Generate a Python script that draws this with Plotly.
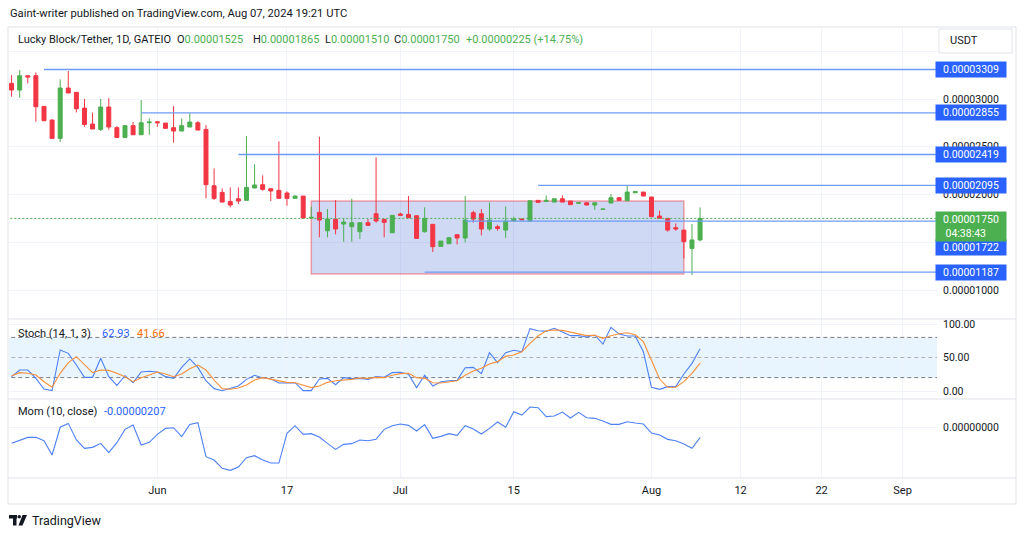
import plotly.graph_objects as go
import pandas as pd

# ---------------- data (prices in units of 1e-8 USDT) ----------------
dates = pd.date_range("2024-05-14", "2024-08-07", freq="D")

opens = [3164, 3094, 3244, 3244, 2923, 2780, 2588, 3115, 3070, 2905,
         2738, 2682, 2916, 2700, 2598, 2721, 2626, 2752, 2762, 2748,
         2700, 2665, 2707, 2752, 2682, 2092, 2022, 1928, 1956, 1939,
         2068, 2103, 2061, 2044, 2016, 1960, 1984, 1754, 1813, 1621,
         1743, 1691, 1663, 1611, 1705, 1799, 1740, 1600, 1796, 1792,
         1778, 1611, 1688, 1457, 1485, 1580, 1545, 1810, 1799, 1639,
         1663, 1628, 1723, 1743, 1723, 1939, 1928, 1921, 1956, 1932,
         1908, 1914, 1890, 1845, 1911, 1967, 1935, 2019, 2026, 1974,
         1775, 1750, 1653, 1628, 1436, 1525]
highs = [3251, 3303, 3244, 3279, 2923, 2787, 3206, 3293, 3070, 3000,
         2857, 3000, 3010, 2717, 2728, 2759, 2989, 2797, 2769, 2748,
         2926, 2797, 2850, 2769, 2728, 2274, 2064, 2075, 2075, 2612,
         2316, 2201, 2061, 2557, 2033, 1991, 1984, 1873, 2606, 1848,
         1942, 1750, 1956, 1705, 1743, 2389, 1740, 1782, 1810, 1984,
         1778, 1866, 1688, 1513, 1548, 1580, 1984, 1831, 1848, 1918,
         1684, 1876, 1768, 1750, 1935, 1939, 1991, 1956, 1991, 1932,
         1914, 1914, 1914, 1848, 2005, 1967, 2099, 2030, 2026, 1974,
         1831, 1757, 1698, 1628, 1691, 1865]
lows = [3024, 3014, 3164, 2762, 2773, 2584, 2550, 3063, 2860, 2710,
        2686, 2665, 2679, 2598, 2598, 2626, 2626, 2626, 2710, 2693,
        2543, 2665, 2707, 2675, 1960, 1942, 1921, 1865, 1900, 1939,
        2068, 2040, 1932, 1960, 1883, 1960, 1754, 1750, 1552, 1552,
        1583, 1506, 1506, 1534, 1677, 1705, 1552, 1600, 1782, 1757,
        1541, 1600, 1398, 1457, 1485, 1478, 1499, 1705, 1572, 1621,
        1621, 1545, 1723, 1733, 1723, 1918, 1928, 1921, 1921, 1894,
        1905, 1890, 1838, 1845, 1911, 1939, 1935, 2015, 1984, 1768,
        1750, 1611, 1621, 1332, 1157, 1510]
closes = [3094, 3244, 3230, 2919, 2773, 2588, 3115, 3063, 2898, 2734,
          2686, 2916, 2707, 2598, 2721, 2626, 2752, 2759, 2752, 2693,
          2665, 2721, 2759, 2675, 2103, 1960, 1921, 1890, 1932, 2075,
          2100, 2054, 2037, 1960, 1960, 1984, 1754, 1761, 1733, 1743,
          1639, 1712, 1705, 1705, 1677, 1723, 1709, 1782, 1782, 1757,
          1541, 1750, 1454, 1513, 1548, 1545, 1733, 1743, 1639, 1733,
          1645, 1723, 1743, 1736, 1935, 1918, 1939, 1956, 1921, 1894,
          1914, 1890, 1914, 1848, 1967, 1939, 2026, 2030, 1984, 1768,
          1750, 1628, 1639, 1506, 1525, 1750]

stoch_k = [21.4, 31.3, 31.3, 18.9, 3.0, 0.5, 61.2, 56.2, 38.8, 20.4,
           20.4, 48.8, 21.4, 8.4, 22.9, 12.4, 28.4, 29.4, 28.4, 21.4,
           18.9, 35.3, 47.8, 35.3, 15.4, 3.5, 0.5, 3.5, 7.4, 17.4,
           23.4, 19.4, 18.4, 11.9, 11.9, 12.4, 0.5, 0.5, 17.9, 18.9,
           9.4, 19.9, 18.4, 18.9, 17.4, 21.4, 20.4, 27.4, 27.9, 24.9,
           5.0, 23.4, 7.4, 13.9, 15.4, 15.9, 34.8, 35.3, 25.9, 57.2,
           42.3, 57.2, 60.7, 58.7, 93.0, 90.0, 89.0, 93.5, 88.0, 82.6,
           82.6, 80.6, 83.6, 70.1, 95.0, 85.0, 82.1, 82.1, 58.7, 5.5,
           2.5, 6.5, 6.5, 25.4, 41.3, 62.93]
stoch_d = [22.9, 27.4, 26.4, 23.9, 13.9, 5.5, 26.4, 42.3, 51.2, 39.8,
           27.4, 31.3, 30.8, 26.4, 21.4, 13.9, 19.9, 23.9, 28.4, 25.4,
           21.4, 25.4, 33.3, 38.8, 31.3, 16.4, 3.5, 2.5, 4.5, 8.9,
           16.4, 19.9, 17.4, 14.4, 12.9, 12.4, 8.4, 5.0, 7.4, 12.9,
           15.4, 15.9, 17.4, 19.4, 18.9, 20.4, 19.9, 23.4, 25.9, 26.4,
           19.9, 18.9, 12.4, 11.9, 13.4, 15.4, 23.4, 29.9, 33.8, 40.3,
           43.8, 51.7, 53.7, 58.7, 71.1, 82.1, 90.0, 91.0, 90.5, 88.0,
           85.5, 82.6, 83.1, 78.6, 82.6, 85.5, 87.0, 84.0, 73.6, 46.3,
           17.9, 5.5, 5.5, 13.9, 26.4, 41.66]
momentum = [-322, -269, -202, -202, -269, -557, 1, 79, -255, -423,
            -403, -322, -510, -309, -41, 46, -356, -302, -142, -21,
            -8, -188, 59, 93, -591, -658, -825, -865, -798, -611,
            -570, -658, -718, -718, -122, 33, -142, -128, -195, -322,
            -443, -343, -329, -255, -269, -242, -41, 33, 66, 39,
            -75, 53, -222, -182, -128, -162, 33, -34, -135, -21,
            106, 1, 314, 247, 408, 394, 214, 227, 307, 187,
            301, 193, 180, 126, 59, 59, 113, 86, 66, -115,
            -155, -242, -269, -336, -423, -207]

ray_starts = ["2024-05-18", "2024-05-30", "2024-06-11", "2024-07-18", "2024-07-09", "2024-07-04"]
ray_levels = [3309, 2855, 2419, 2095, 1722, 1187]
box_dates = ["2024-06-20", "2024-08-05"]
box_levels = [1168, 1932]
last_price = 1750

x_tick_dates = ["2024-06-01", "2024-06-17", "2024-07-01", "2024-07-15",
                "2024-08-01", "2024-08-12", "2024-08-22", "2024-09-01"]
x_tick_text = ["Jun", "17", "Jul", "15", "Aug", "12", "22", "Sep"]
price_ticks = [1000, 1500, 2000, 2500, 3000, 3500]
hidden_price_ticks = [1500, 3500]   # covered by labels / USDT button in the reference
stoch_ticks = [0, 50, 100]
stoch_tick_text = ["0.00", "50.00", "100.00"]
stoch_levels = [20, 50, 80]

U = 1e-8
FONT = "Roboto"
TXT = "#131722"
GREEN = "#4caf50"
RED = "#f23645"
BLUE = "#2962ff"
LINE_BLUE = "#4d80f6"
RAY_BLUE = "#6e9bf7"
ORANGE = "#ff6d00"
LINE_ORANGE = "#f7903a"
GRID = "#f0f3fa"
BORDER = "#e0e3eb"

# ---------------- pixel helpers for layout placement ----------------
L_PX, R_PX, T_PX, B_PX = 9, 937, 27, 478
W_PX, H_PX = R_PX - L_PX, B_PX - T_PX


def fx(px):
    return (px - L_PX) / W_PX


def fy(py):
    return (B_PX - py) / H_PX


PRICE_BOTTOM, STOCH_BOTTOM = 319, 399

fig = go.Figure()
fig.add_trace(go.Candlestick(
    x=dates, open=[v * U for v in opens], high=[v * U for v in highs],
    low=[v * U for v in lows], close=[v * U for v in closes],
    xaxis="x", yaxis="y",
    increasing=dict(line=dict(color=GREEN, width=1), fillcolor=GREEN),
    decreasing=dict(line=dict(color=RED, width=1), fillcolor=RED),
    whiskerwidth=0, showlegend=False, hoverinfo="skip"))
fig.add_trace(go.Scatter(x=dates, y=stoch_k, xaxis="x", yaxis="y2", mode="lines",
                         line=dict(color=LINE_BLUE, width=1.1), showlegend=False, hoverinfo="skip"))
fig.add_trace(go.Scatter(x=dates, y=stoch_d, xaxis="x", yaxis="y2", mode="lines",
                         line=dict(color=LINE_ORANGE, width=1.1), showlegend=False, hoverinfo="skip"))
fig.add_trace(go.Scatter(x=dates, y=[v * U for v in momentum], xaxis="x", yaxis="y3", mode="lines",
                         line=dict(color=LINE_BLUE, width=1.1), showlegend=False, hoverinfo="skip"))

shapes = []
# rectangle zone
shapes.append(dict(type="rect", xref="x", yref="y", x0=box_dates[0], x1=box_dates[1],
                   y0=box_levels[0] * U, y1=box_levels[1] * U,
                   fillcolor="rgba(100,130,220,0.30)",
                   line=dict(color="rgba(242,54,69,0.45)", width=1.5), layer="between"))
# horizontal rays
for d0, lvl in zip(ray_starts, ray_levels):
    shapes.append(dict(type="line", xref="x", yref="y", x0=d0, x1="2024-10-01",
                       y0=lvl * U, y1=lvl * U, line=dict(color=RAY_BLUE, width=1.3), layer="above"))
# last price dotted line
shapes.append(dict(type="line", xref="x", yref="y", x0="2024-05-01", x1="2024-10-01",
                   y0=last_price * U, y1=last_price * U,
                   line=dict(color=GREEN, width=1, dash="2px,2px"), layer="above"))
# stochastic band
shapes.append(dict(type="rect", xref="x", yref="y2", x0="2024-05-01", x1="2024-10-01",
                   y0=stoch_levels[0], y1=stoch_levels[2], fillcolor="rgba(33,150,243,0.10)",
                   line=dict(width=0), layer="below"))
for lvl in stoch_levels:
    col = "rgba(120,123,134,0.55)" if lvl == 50 else "#787b86"
    shapes.append(dict(type="line", xref="x", yref="y2", x0="2024-05-01", x1="2024-10-01",
                       y0=lvl, y1=lvl, line=dict(color=col, width=1, dash="4px,3px"), layer="between"))
# pane separators and frame
for py in (PRICE_BOTTOM, STOCH_BOTTOM, B_PX):
    shapes.append(dict(type="line", xref="paper", yref="paper", x0=fx(8), x1=fx(1016),
                       y0=fy(py), y1=fy(py), line=dict(color=BORDER, width=1), layer="above"))
shapes.append(dict(type="rect", xref="paper", yref="paper", x0=fx(8), x1=fx(1016),
                   y0=fy(504), y1=fy(27), line=dict(color=BORDER, width=1), layer="above"))
# USDT button
shapes.append(dict(type="rect", xref="paper", yref="paper", x0=fx(939), x1=fx(1012),
                   y0=fy(53), y1=fy(29), fillcolor="white", line=dict(color=BORDER, width=1),
                   layer="above"))
# TradingView logo mark
shapes.append(dict(type="rect", xref="paper", yref="paper", x0=fx(9), x1=fx(17),
                   y0=fy(518.5), y1=fy(515), fillcolor=TXT, line=dict(width=0), layer="above"))
shapes.append(dict(type="rect", xref="paper", yref="paper", x0=fx(13), x1=fx(16.5),
                   y0=fy(525.5), y1=fy(515), fillcolor=TXT, line=dict(width=0), layer="above"))
shapes.append(dict(type="circle", xref="paper", yref="paper", x0=fx(17.5), x1=fx(21),
                   y0=fy(518.5), y1=fy(515), fillcolor=TXT, line=dict(width=0), layer="above"))
shapes.append(dict(type="path", xref="paper", yref="paper",
                   path="M {} {} L {} {} L {} {} L {} {} Z".format(
                       fx(22.5), fy(515), fx(27), fy(515), fx(22.5), fy(525.5), fx(18.5), fy(525.5)),
                   fillcolor=TXT, line=dict(width=0), layer="above"))

annotations = []


def txt(text, px, py, size=11, color=TXT, anchor="left"):
    annotations.append(dict(text=text, xref="paper", yref="paper", x=fx(px), y=fy(py),
                            xanchor=anchor, yanchor="middle", showarrow=False,
                            font=dict(family=FONT, size=size, color=color)))


txt("Gaint-writer published on TradingView.com, Aug 07, 2024 19:21 UTC", 8, 13.5, 11.2)
txt("Lucky Block/Tether, 1D, GATEIO", 16, 39, 11)
g = '<span style="color:%s">%s</span>'
txt("O" + g % (GREEN, "%.8f" % (opens[-1] * U)), 175, 39, 11)
txt("H" + g % (GREEN, "%.8f" % (highs[-1] * U)), 251, 39, 11)
txt("L" + g % (GREEN, "%.8f" % (lows[-1] * U)), 323, 39, 11)
txt("C" + g % (GREEN, "%.8f" % (closes[-1] * U)), 392, 39, 11)
chg = closes[-1] - closes[-2]
txt("+%.8f (+%.2f%%)" % (chg * U, chg / closes[-2] * 100), 464, 39, 11, GREEN)
txt("Stoch (14, 1, 3)", 16, 333, 11)
txt("%.2f" % stoch_k[-1], 100, 333, 11, BLUE)
txt("%.2f" % stoch_d[-1], 135, 333, 11, ORANGE)
txt("Mom (10, close)", 16, 411.5, 11)
txt("%.8f" % (momentum[-1] * U), 102, 411.5, 11, BLUE)
txt("USDT", 948, 41, 11)
txt("TradingView", 30, 520.5, 12.5)


def price_label(text, y, yref, color, h=15):
    annotations.append(dict(text=text, xref="paper", x=fx(935), xanchor="left",
                            yref=yref, y=y, yanchor="middle", showarrow=False,
                            bgcolor=color, width=70, height=h, borderpad=0,
                            align="center", valign="middle",
                            font=dict(family=FONT, size=10.5, color="white")))


for lvl in (3309, 2855, 2419, 2095, 1187):
    price_label("%.8f" % (lvl * U), lvl * U, "y", BLUE)
price_label("%.8f" % (1722 * U), fy(247.7), "paper", BLUE)
annotations.append(dict(text="%.8f<br>04:38:43&nbsp;&nbsp;&nbsp;&nbsp;" % (last_price * U),
                        xref="paper", x=fx(935), xanchor="left", yref="paper", y=fy(211),
                        yanchor="top", showarrow=False, bgcolor=GREEN, width=70, height=29,
                        borderpad=0, align="center", valign="middle",
                        font=dict(family=FONT, size=10.5, color="white")))

axis_font = dict(family=FONT, size=10.5, color=TXT)
fig.update_layout(
    width=1024, height=536, autosize=False,
    margin=dict(l=L_PX, r=1024 - R_PX, t=T_PX, b=536 - B_PX),
    paper_bgcolor="white", plot_bgcolor="white",
    hovermode=False, showlegend=False,
    font=dict(family=FONT, color=TXT),
    xaxis=dict(domain=[0, 1], anchor="y3", type="date",
               range=["2024-05-13 16:20", "2024-09-05 06:00"],
               tickmode="array", tickvals=x_tick_dates, ticktext=x_tick_text,
               showgrid=True, gridcolor=GRID, gridwidth=1, zeroline=False, showline=False,
               ticks="", tickfont=dict(family=FONT, size=11, color=TXT), ticklabelstandoff=4,
               rangeslider=dict(visible=False), fixedrange=True),
    yaxis=dict(domain=[fy(PRICE_BOTTOM), 1], anchor="x", side="right",
               range=[697 * U, 3754 * U], tickmode="array",
               tickvals=[v * U for v in price_ticks],
               ticktext=["" if v in hidden_price_ticks else "%.8f" % (v * U) for v in price_ticks],
               showgrid=True, gridcolor=GRID, zeroline=False, showline=False, ticks="",
               tickfont=axis_font, ticklabelstandoff=5),
    yaxis2=dict(domain=[fy(STOCH_BOTTOM), fy(PRICE_BOTTOM)], anchor="x", side="right",
                range=[-11.94, 107.46], tickmode="array", tickvals=stoch_ticks,
                ticktext=stoch_tick_text, showgrid=True, gridcolor=GRID, zeroline=False,
                showline=False, ticks="", tickfont=axis_font, ticklabelstandoff=5),
    yaxis3=dict(domain=[0, fy(STOCH_BOTTOM)], anchor="x", side="right",
                range=[-1019 * U, 569 * U], tickmode="array", tickvals=[0],
                ticktext=["%.8f" % 0], showgrid=True, gridcolor=GRID, zeroline=False,
                showline=False, ticks="", tickfont=axis_font, ticklabelstandoff=5),
    shapes=shapes, annotations=annotations,
)

fig.write_html("out.html", config={"displayModeBar": False, "staticPlot": True},
               post_script="document.body.style.margin='0px';document.body.style.padding='0px';")
